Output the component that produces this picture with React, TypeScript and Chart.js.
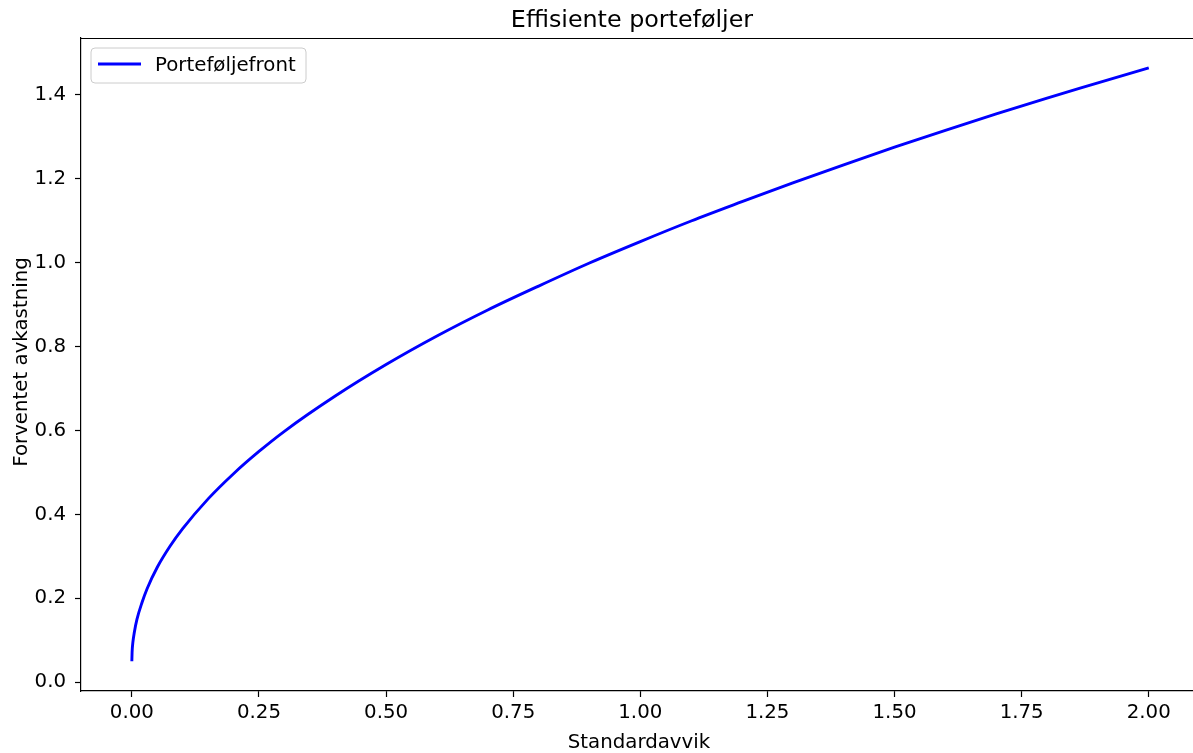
import React, { useEffect, useRef } from "react";
import { Chart, registerables } from "chart.js";

Chart.register(...registerables);

const TITLE = "Effisiente porteføljer";
const X_LABEL = "Standardavvik";
const Y_LABEL = "Forventet avkastning";
const SERIES_LABEL = "Porteføljefront";

// Values
const stdDev = [0, 0.0005, 0.002, 0.005, 0.01, 0.02, 0.03, 0.05, 0.075, 0.1, 0.15, 0.2, 0.25, 0.3, 0.4, 0.5, 0.6, 0.7, 0.8, 0.9, 1.0, 1.1, 1.2, 1.3, 1.4, 1.5, 1.6, 1.7, 1.8, 1.9, 2.0];
const expReturn = [0.05, 0.072, 0.095, 0.12, 0.15, 0.19, 0.223, 0.274, 0.324, 0.366, 0.437, 0.497, 0.55, 0.598, 0.682, 0.757, 0.825, 0.887, 0.944, 0.999, 1.05, 1.099, 1.145, 1.19, 1.233, 1.275, 1.315, 1.354, 1.392, 1.428, 1.464];

const xTicks = [0, 0.25, 0.5, 0.75, 1.0, 1.25, 1.5, 1.75, 2.0];
const yTicks = [0, 0.2, 0.4, 0.6, 0.8, 1.0, 1.2, 1.4];

const FONT = "'DejaVu Sans', sans-serif";
const TICK_SIZE = 19.8;
const TITLE_SIZE = 23.8;

const W = 1193;
const H = 753;

const decorPlugin = {
  id: "decor",
  afterDraw(chart: any) {
    const ctx = chart.ctx;
    const a = chart.chartArea;
    ctx.save();
    // top spine
    ctx.strokeStyle = "#000";
    ctx.lineWidth = 1.2;
    ctx.beginPath();
    ctx.moveTo(a.left, a.top + 0.5);
    ctx.lineTo(a.right, a.top + 0.5);
    ctx.stroke();

    // title
    ctx.fillStyle = "#000";
    ctx.font = `${TITLE_SIZE}px ${FONT}`;
    ctx.textAlign = "center";
    ctx.textBaseline = "alphabetic";
    ctx.fillText(TITLE, 632, 27);

    // x label
    ctx.font = `${TICK_SIZE}px ${FONT}`;
    ctx.fillText(X_LABEL, 639, 748);

    // y label
    ctx.save();
    ctx.translate(27, 362);
    ctx.rotate(-Math.PI / 2);
    ctx.fillText(Y_LABEL, 0, 0);
    ctx.restore();

    // legend
    const lx = 91, ly = 48, lw = 215, lh = 35, r = 4;
    ctx.beginPath();
    ctx.moveTo(lx + r, ly);
    ctx.lineTo(lx + lw - r, ly);
    ctx.quadraticCurveTo(lx + lw, ly, lx + lw, ly + r);
    ctx.lineTo(lx + lw, ly + lh - r);
    ctx.quadraticCurveTo(lx + lw, ly + lh, lx + lw - r, ly + lh);
    ctx.lineTo(lx + r, ly + lh);
    ctx.quadraticCurveTo(lx, ly + lh, lx, ly + lh - r);
    ctx.lineTo(lx, ly + r);
    ctx.quadraticCurveTo(lx, ly, lx + r, ly);
    ctx.closePath();
    ctx.fillStyle = "rgba(255,255,255,0.8)";
    ctx.fill();
    ctx.strokeStyle = "#cccccc";
    ctx.lineWidth = 1;
    ctx.stroke();

    ctx.strokeStyle = "#0000ff";
    ctx.lineWidth = 2.9;
    ctx.beginPath();
    ctx.moveTo(98, 64);
    ctx.lineTo(141, 64);
    ctx.stroke();

    ctx.fillStyle = "#000";
    ctx.textAlign = "left";
    ctx.font = `${TICK_SIZE}px ${FONT}`;
    ctx.fillText(SERIES_LABEL, 155, 71);
    ctx.restore();
  },
};

export default function App() {
  const ref = useRef<HTMLCanvasElement | null>(null);
  useEffect(() => {
    document.body.style.margin = "0";
    const canvas = ref.current;
    if (!canvas) return;
    const points = stdDev.map((x, i) => ({ x, y: expReturn[i] }));
    const chart = new Chart(canvas, {
      type: "line",
      data: {
        datasets: [
          {
            label: SERIES_LABEL,
            data: points,
            borderColor: "#0000ff",
            backgroundColor: "#0000ff",
            borderWidth: 2.9,
            pointRadius: 0,
            cubicInterpolationMode: "monotone",
            fill: false,
          },
        ],
      },
      options: {
        responsive: false,
        animation: false,
        layout: { padding: { top: 38, left: 0, right: 0, bottom: 0 } },
        plugins: {
          legend: { display: false },
          title: { display: false },
          tooltip: { enabled: false },
        },
        scales: {
          x: {
            type: "linear",
            min: -0.1,
            max: 2.087,
            afterBuildTicks: (s: any) => {
              s.ticks = xTicks.map((v) => ({ value: v }));
            },
            afterFit: (s: any) => {
              s.height = 62;
            },
            grid: {
              drawOnChartArea: false,
              drawTicks: true,
              tickLength: 6,
              tickColor: "#000",
              tickWidth: 1.2,
            },
            border: { display: true, color: "#000", width: 1.2 },
            ticks: {
              color: "#000",
              font: { family: FONT, size: TICK_SIZE },
              padding: 4,
              maxRotation: 0,
              autoSkip: false,
              callback: (v: any) => Number(v).toFixed(2),
            },
          },
          y: {
            type: "linear",
            min: -0.0207,
            max: 1.535,
            afterBuildTicks: (s: any) => {
              s.ticks = yTicks.map((v) => ({ value: v }));
            },
            afterFit: (s: any) => {
              s.width = 81;
            },
            grid: {
              drawOnChartArea: false,
              drawTicks: true,
              tickLength: 6,
              tickColor: "#000",
              tickWidth: 1.2,
            },
            border: { display: true, color: "#000", width: 1.2 },
            ticks: {
              color: "#000",
              font: { family: FONT, size: TICK_SIZE },
              padding: 9,
              autoSkip: false,
              callback: (v: any) => Number(v).toFixed(1),
            },
          },
        },
      },
      plugins: [decorPlugin],
    });
    return () => chart.destroy();
  }, []);
  return (
    <div style={{ width: W, height: H, background: "#fff" }}>
      <canvas ref={ref} width={W} height={H} style={{ display: "block" }} />
    </div>
  );
}
